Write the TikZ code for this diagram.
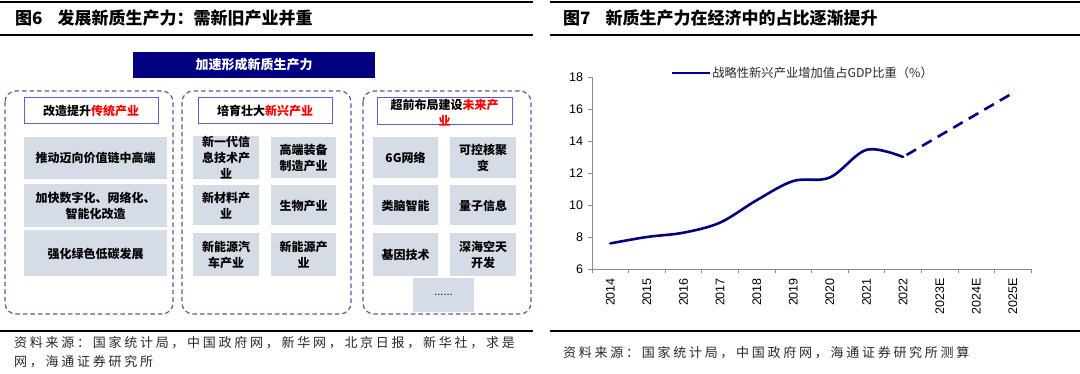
\documentclass[tikz,border=0pt]{standalone}
\usepackage{fontspec}
\setmainfont{Liberation Sans}
\newfontfamily\cjk{Noto Sans CJK SC}
\newfontfamily\cjkfoot{Noto Sans CJK SC}[LetterSpace=21]
\definecolor{navy}{RGB}{0,0,128}
\definecolor{hdrblue}{RGB}{96,96,214}
\definecolor{dashcol}{RGB}{92,88,170}
\definecolor{graybox}{RGB}{214,220,229}
\definecolor{axisgray}{RGB}{140,140,140}
\definecolor{foot}{RGB}{40,40,40}
\tikzset{
  rule/.style={line width=2pt, black},
  dbox/.style={draw=dashcol, line width=1.2pt, dash pattern=on 4.5pt off 3pt, rounded corners=11pt},
  hbox/.style={draw=hdrblue, line width=1pt, fill=white, inner sep=0pt, align=center,
     font=\cjk\bfseries\fontsize{12}{16}\selectfont},
  gbox/.style={fill=graybox, inner sep=0pt, align=center, font=\cjk\bfseries\fontsize{12}{16}\selectfont},
  titletext/.style={anchor=west, inner sep=0pt, font=\cjk\bfseries\fontsize{17}{20}\selectfont},
  foottext/.style={anchor=west, inner sep=0pt, text=foot, font=\cjkfoot\fontsize{13}{19}\selectfont},
  axis/.style={draw=axisgray, line width=0.8pt},
  ylab/.style={anchor=east, inner sep=0pt, font=\fontsize{12.5}{14}\selectfont},
  xlab/.style={anchor=east, rotate=90, inner sep=0pt, font=\fontsize{12.5}{14}\selectfont},
  series/.style={draw=navy, line width=2.6pt}
}
\begin{document}
\begin{tikzpicture}[x=1pt, y=-1pt]
\useasboundingbox (0,0) rectangle (1080,374);
% ---------- rules ----------
\draw[rule] (0,2) -- (533,2);
\draw[rule] (0,35) -- (533,35);
\draw[rule] (0,331) -- (533,331);
\draw[rule] (550,2) -- (1080,2);
\draw[rule] (550,35) -- (1080,35);
\draw[rule] (550,331) -- (1080,331);
% ---------- titles ----------
\node[titletext] (t6) at (15,18.5) {图6\hspace{15pt}发展新质生产力：需新旧产业并重};
\node[titletext] (t7) at (563,18.5) {图7\hspace{15pt}新质生产力在经济中的占比逐渐提升};
% ---------- left diagram ----------
\node[fill=navy, text=white, minimum width=242pt, minimum height=26pt, inner sep=0pt,
      font=\cjk\bfseries\fontsize{13}{15}\selectfont] (banner) at (254,65) {加速形成新质生产力};
\draw[dbox] (5,91) rectangle (173,314);
\draw[dbox] (182,91) rectangle (351,314);
\draw[dbox] (363,91) rectangle (531,314);
\node[hbox, minimum width=134pt, minimum height=26pt] (h1) at (91,111) {改造提升\textcolor{red}{传统产业}};
\node[hbox, minimum width=134pt, minimum height=26pt] (h2) at (265,111) {培育壮大\textcolor{red}{新兴产业}};
\node[hbox, minimum width=135pt, minimum height=27pt] (h3) at (444.5,111.5) {};
\node[inner sep=0pt, align=center, font=\cjk\bfseries\fontsize{12}{16}\selectfont] (h3t) at (444.5,113)
   {超前布局建设\textcolor{red}{未来产}\\\textcolor{red}{业}};
% box 1
\node[gbox, minimum width=143pt, minimum height=42pt] (a1) at (95.5,158) {推动迈向价值链中高端};
\node[gbox, minimum width=143pt, minimum height=43pt] (a2) at (95.5,205.5) {加快数字化、网络化、\\智能化改造};
\node[gbox, minimum width=143pt, minimum height=46pt] (a3) at (95.5,253.5) {强化绿色低碳发展};
% box 2
\node[gbox, minimum width=66pt, minimum height=41pt] (b1) at (226,157.5) {新一代信\\息技术产\\业};
\node[gbox, minimum width=65pt, minimum height=41pt] (b2) at (303.5,157.5) {高端装备\\制造产业};
\node[gbox, minimum width=66pt, minimum height=40pt] (b3) at (226,205.5) {新材料产\\业};
\node[gbox, minimum width=65pt, minimum height=40pt] (b4) at (303.5,205.5) {生物产业};
\node[gbox, minimum width=66pt, minimum height=43pt] (b5) at (226,254.5) {新能源汽\\车产业};
\node[gbox, minimum width=65pt, minimum height=43pt] (b6) at (303.5,254.5) {新能源产\\业};
% box 3
\node[gbox, minimum width=65pt, minimum height=41pt] (c1) at (405.5,157.5) {6G网络};
\node[gbox, minimum width=66pt, minimum height=41pt] (c2) at (483,157.5) {可控核聚\\变};
\node[gbox, minimum width=65pt, minimum height=40pt] (c3) at (405.5,205.5) {类脑智能};
\node[gbox, minimum width=66pt, minimum height=40pt] (c4) at (483,205.5) {量子信息};
\node[gbox, minimum width=65pt, minimum height=43pt] (c5) at (405.5,254.5) {基因技术};
\node[gbox, minimum width=66pt, minimum height=43pt] (c6) at (483,254.5) {深海空天\\开发};
\node[gbox, minimum width=61pt, minimum height=34pt, font=\fontsize{11}{12}\selectfont] (c7) at (443.5,295) {......};
% ---------- footnotes ----------
\node[foottext] (f1) at (14,343) {资料来源：国家统计局，中国政府网，新华网，北京日报，新华社，求是};
\node[foottext] (f2) at (14,362) {网，海通证券研究所};
\node[foottext] (f3) at (563,353) {资料来源：国家统计局，中国政府网，海通证券研究所测算};
% ---------- chart ----------
\begin{scope}[shift={(592,269)}, x=36.6pt, y=16pt]
  \draw[axis] (0,0) -- (0,12);
  \draw[axis] (0,0) -- (12,0);
  \foreach \v in {6,8,...,18} {
    \draw[axis] (-0.11,\v-6) -- (0,\v-6);
    \node[ylab] (yl\v) at (-0.24,\v-6) {\v};
  }
  \foreach \k in {0,...,12} { \draw[axis] (\k,0) -- (\k,-0.28); }
  \foreach \lab [count=\i from 0] in {2014,2015,2016,2017,2018,2019,2020,2021,2022,2023E,2024E,2025E} {
    \node[xlab] (xl\i) at (\i+0.5,-0.56) {\lab};
  }
  \draw[series, line join=round, line cap=round] plot[smooth, tension=0.55] coordinates {
    (0.5,1.6) (1.5,2.0) (2.5,2.27) (3.5,2.9) (4.5,4.3) (5.5,5.5) (6.5,5.72) (7.5,7.45) (8.5,7.0)};
  \coordinate (p22) at (8.5,7.0);
  \coordinate (p25) at (11.5,11.0);
  \draw[series, dash pattern=on 11pt off 7pt, dash phase=-4pt] (p22) -- (p25);
  % legend
  \coordinate (lg1) at (2.18,12.25);
  \coordinate (lg2) at (3.22,12.25);
  \draw[series] (lg1) -- (lg2);
  \node[anchor=west, inner sep=0pt, text=foot, font=\cjk\fontsize{12.3}{14}\selectfont] (lgt) at (3.28,12.25)
     {战略性新兴产业增加值占GDP比重（\%）};
\end{scope}
\end{tikzpicture}
\end{document}
